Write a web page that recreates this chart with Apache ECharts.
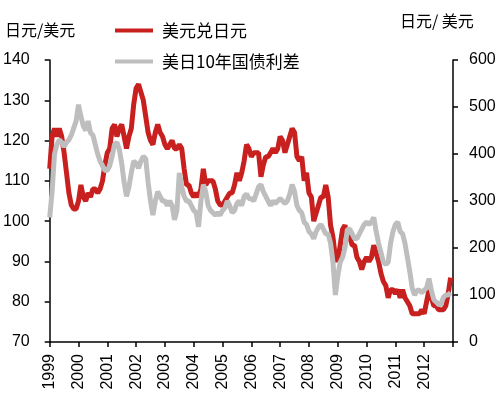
<!DOCTYPE html>
<html>
<head>
<meta charset="utf-8">
<script src="https://cdn.jsdelivr.net/npm/echarts@6/dist/echarts.min.js"></script>
<style>
  html, body { margin: 0; padding: 0; background: #fff; }
  #chart { width: 500px; height: 398px; }
</style>
</head>
<body>
<div id="chart"></div>
<script>
// 月度数据, 1999-01 ~ 2012-12
const years = [1999, 2000, 2001, 2002, 2003, 2004, 2005, 2006, 2007, 2008, 2009, 2010, 2011, 2012];
const yearTicks = [1999, 2000, 2001, 2002, 2003, 2004, 2005, 2006, 2007, 2008, 2009, 2010, 2011, 2012];

// 美元兑日元 (左轴)
const usdJpy = [
  113, 121, 123, 121, 123, 121, 117, 112, 107, 104, 103, 103,
  105, 109, 106, 105, 107, 106, 108, 108, 107, 108, 110, 114,
  117, 118, 123, 124, 121, 123, 124, 121, 118, 121, 123, 129,
  133, 134, 132, 130, 126, 122, 120, 119, 122, 124, 122, 121,
  119, 118, 119, 120, 118, 118, 119, 118, 113, 109, 109, 107,
  106, 107, 106, 108, 113, 109, 110, 110, 110, 108, 105, 104,
  104, 105, 106, 107, 107, 109, 112, 110, 112, 115, 119, 118,
  116, 117, 117, 117, 111, 114, 116, 116, 117, 118, 117, 118,
  121, 120, 117, 119, 121, 123, 122, 116, 115, 116, 110, 112,
  107, 106, 100, 102, 104, 106, 106, 109, 106, 99, 96, 91,
  90, 94, 98, 99, 96, 96, 94, 94, 91, 90, 88, 90,
  91, 90, 91, 94, 92, 90, 87, 85, 84, 81, 83, 83,
  82, 83, 81, 83, 81, 80, 79, 77, 77, 77, 77, 78,
  77, 80, 83, 81, 79, 79, 78, 78, 78, 79, 82, 86
];

// 美日10年国债利差 (右轴)
const spread = [
  265, 320, 400, 420, 430, 425, 415, 425, 430, 440, 455, 470,
  505, 480, 460, 450, 470, 445, 440, 420, 400, 385, 375, 365,
  365, 375, 395, 420, 425, 410, 380, 340, 310, 330, 360, 385,
  380, 370, 385, 395, 390, 340, 300, 270, 300, 320, 310, 300,
  300, 290, 300, 290, 260, 280, 360, 330, 310, 300, 300, 290,
  280, 275, 245, 300, 335, 320, 290, 280, 275, 270, 275, 270,
  280, 285, 300, 290, 275, 280, 295, 300, 290, 310, 315, 305,
  305, 300, 315, 330, 335, 320, 310, 300, 290, 300, 295, 300,
  305, 300, 295, 300, 315, 335, 320, 290, 280, 275, 255, 250,
  235, 230, 220, 235, 245, 250, 240, 230, 230, 210, 170, 100,
  140, 170, 180, 200, 240, 240, 230, 220, 220, 230, 240, 250,
  255, 250, 255, 265, 235, 210, 190, 170, 165, 170, 210, 235,
  250, 255, 235, 230, 210, 180, 150, 115, 100, 110, 110, 105,
  110, 115, 135, 110, 90, 85, 80, 80, 95, 100, 100, 105
];

const leftTicks = [70, 80, 90, 100, 110, 120, 130, 140];
const rightTicks = [0, 100, 200, 300, 400, 500, 600];

const months = [];
years.forEach(y => { for (let m = 0; m < 12; m++) months.push(y + m / 12); });

const font = "Liberation Sans, Arial, sans-serif";
const cjk = "Noto Sans CJK SC, sans-serif";

const axisCommon = {
  axisLine: { show: true, lineStyle: { color: "#000", width: 1.5 } },
  axisTick: { show: true, inside: false, length: 5, lineStyle: { color: "#000", width: 1.5 } },
  splitLine: { show: false },
};

const option = {
  animation: false,
  backgroundColor: "#fff",
  grid: { left: 48, right: 47, top: 60, bottom: 56 },
  legend: {
    orient: "vertical",
    left: 110,
    top: 17,
    itemWidth: 38,
    itemHeight: 4,
    itemGap: 14,
    icon: "rect",
    textStyle: { fontFamily: cjk, fontSize: 17, lineHeight: 17, color: "#000", padding: [0, 0, 0, 4] },
    data: ["美元兑日元", "美日10年国债利差"],
  },
  graphic: [
    { type: "text", left: 5, top: 22, style: { text: "日元/美元", font: "16px " + cjk, fill: "#000" } },
    { type: "text", left: 400, top: 13, style: { text: "日元/ 美元", font: "16px " + cjk, fill: "#000" } },
  ],
  xAxis: {
    type: "value",
    min: yearTicks[0],
    max: 2013,
    interval: 1,
    ...axisCommon,
    axisLabel: {
      rotate: 90,
      margin: 12,
      fontSize: 16,
      fontFamily: font,
      color: "#000",
      formatter: v => (yearTicks.includes(v) ? String(v) : ""),
    },
  },
  yAxis: [
    {
      type: "value",
      min: leftTicks[0],
      max: leftTicks[leftTicks.length - 1],
      interval: 10,
      ...axisCommon,
      axisLabel: { margin: 20, fontSize: 16, fontFamily: font, color: "#000" },
    },
    {
      type: "value",
      position: "right",
      min: rightTicks[0],
      max: rightTicks[rightTicks.length - 1],
      interval: 100,
      ...axisCommon,
      axisLabel: { margin: 16, fontSize: 16, fontFamily: font, color: "#000" },
    },
  ],
  series: [
    {
      name: "美元兑日元",
      type: "line",
      yAxisIndex: 0,
      showSymbol: false,
      lineStyle: { color: "#C8201F", width: 5 },
      itemStyle: { color: "#C8201F" },
      data: months.map((x, i) => [x, usdJpy[i]]),
    },
    {
      name: "美日10年国债利差",
      type: "line",
      yAxisIndex: 1,
      showSymbol: false,
      lineStyle: { color: "#BEBEBE", width: 5 },
      itemStyle: { color: "#BEBEBE" },
      data: months.map((x, i) => [x, spread[i]]),
    },
  ],
};

const chart = echarts.init(document.getElementById("chart"));
chart.setOption(option);
</script>
</body>
</html>
